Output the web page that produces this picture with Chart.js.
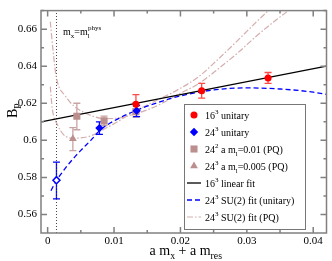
<!DOCTYPE html>
<html>
<head>
<meta charset="utf-8">
<script src="https://cdn.jsdelivr.net/npm/chart.js@4"></script>
<style>
  body { margin: 0; background: #fff; }
  #wrap { width: 332px; height: 261px; }
</style>
</head>
<body>
<div id="wrap"><canvas id="bpChart" width="332" height="261"></canvas></div>
<script>
// axis ticks
const xTicks = [0, 0.01, 0.02, 0.03, 0.04];
const xTickLabels = ['0', '0.01', '0.02', '0.03', '0.04'];
const yTicks = [0.56, 0.58, 0.6, 0.62, 0.64, 0.66];
const yTickLabels = ['0.56', '0.58', '0.6', '0.62', '0.64', '0.66'];

// 16^3 unitary
const u16X = [0.0133, 0.0232, 0.0332];
const u16Y = [0.6195, 0.6268, 0.6336];
const u16Lo = [0.6148, 0.6228, 0.6307];
const u16Hi = [0.6247, 0.6307, 0.6366];

// 24^3 unitary
const u24X = [0.0078, 0.0134];
const u24Y = [0.6066, 0.6159];
const u24Lo = [0.6032, 0.6128];
const u24Hi = [0.6100, 0.6188];

// value at m_x = m_l^phys
const physX = [0.00133];
const physY = [0.5785];
const physLo = [0.5684];
const physHi = [0.5882];

// 24^3 a m_l = 0.01 (PQ)
const pq01X = [0.0044, 0.0085, 0.0133];
const pq01Y = [0.6130, 0.6105, 0.6155];
const pq01Lo = [0.6057, 0.6080, 0.6126];
const pq01Hi = [0.6200, 0.6131, 0.6204];

// 24^3 a m_l = 0.005 (PQ)
const pq005X = [0.0038];
const pq005Y = [0.6009];
const pq005Lo = [0.5945];
const pq005Hi = [0.6069];

// fits
const linFitX = [-0.001, 0.042];
const linFitY = [0.6100, 0.6401];

const su2FitX = [0.0005, 0.0013, 0.002, 0.003, 0.004, 0.005, 0.0065, 0.008, 0.010, 0.0134, 0.0165, 0.0197, 0.025, 0.030, 0.035, 0.040, 0.042];
const su2FitY = [0.5728, 0.5782, 0.5818, 0.5865, 0.5907, 0.5946, 0.6000, 0.6058, 0.6105, 0.6162, 0.6203, 0.6237, 0.6272, 0.6283, 0.6277, 0.6260, 0.6248];

const pqFitAX = [0.0004, 0.0008, 0.0013, 0.0027, 0.0039, 0.0054, 0.0071, 0.0085, 0.0100, 0.0134, 0.0168, 0.0197, 0.0227, 0.0256, 0.0286, 0.0315, 0.0345, 0.0363, 0.0370];
const pqFitAY = [0.6640, 0.6490, 0.6342, 0.6238, 0.6187, 0.6152, 0.6127, 0.6117, 0.6118, 0.6145, 0.6192, 0.6249, 0.6305, 0.6383, 0.6471, 0.6564, 0.6652, 0.6703, 0.6730];

const pqFitBX = [0.0004, 0.0007, 0.0015, 0.0024, 0.0039, 0.0064, 0.0079, 0.0100, 0.0134, 0.0168, 0.0197, 0.0227, 0.0256, 0.0286, 0.0315, 0.0333, 0.0340];
const pqFitBY = [0.6290, 0.6171, 0.6083, 0.6031, 0.6011, 0.6023, 0.6049, 0.6090, 0.6161, 0.6222, 0.6275, 0.6342, 0.6435, 0.6538, 0.6641, 0.6703, 0.6730];

// vertical marker m_x = m_l^phys
const physLineX = [0.00133, 0.00133];
const physLineY = [0.55, 0.67];

const xMin = -0.001, xMax = 0.042, yMin = 0.55, yMax = 0.67;

const FONT = '"Liberation Serif", "Times New Roman", serif';
Chart.defaults.font.family = FONT;
Chart.defaults.color = '#000';

function pts(xs, ys) {
  return xs.map((x, i) => ({ x: x, y: ys[i] }));
}

// text pieces: [text, 0 normal | 1 sub | 2 sup]
function richWidth(ctx, parts, size) {
  let w = 0;
  for (const [t, k] of parts) {
    ctx.font = (k ? size * 0.7 : size) + 'px ' + FONT;
    w += ctx.measureText(t).width;
  }
  return w;
}
function richText(ctx, parts, x, y, size) {
  let cx = x;
  for (const [t, k] of parts) {
    const s = k ? size * 0.7 : size;
    ctx.font = s + 'px ' + FONT;
    const dy = k === 1 ? size * 0.3 : (k === 2 ? -size * 0.42 : 0);
    ctx.fillText(t, cx, y + dy);
    cx += ctx.measureText(t).width;
  }
  return cx;
}

function marker(ctx, style, x, y, r) {
  ctx.beginPath();
  if (style === 'circle') {
    ctx.arc(x, y, r, 0, Math.PI * 2);
  } else if (style === 'rectRot') {
    ctx.moveTo(x, y - r); ctx.lineTo(x + r, y); ctx.lineTo(x, y + r); ctx.lineTo(x - r, y);
  } else if (style === 'rect') {
    const s = r * Math.SQRT1_2;
    ctx.rect(x - s, y - s, 2 * s, 2 * s);
  } else if (style === 'triangle') {
    ctx.moveTo(x, y - r); ctx.lineTo(x + r * 0.87, y + r * 0.5); ctx.lineTo(x - r * 0.87, y + r * 0.5);
  }
  ctx.closePath();
  ctx.fill();
}

const errorSets = [
  { x: pq005X, lo: pq005Lo, hi: pq005Hi, color: '#c9a3a3' },
  { x: pq01X, lo: pq01Lo, hi: pq01Hi, color: '#c9a3a3' },
  { x: u16X, lo: u16Lo, hi: u16Hi, color: '#ff4a4a' },
  { x: u24X, lo: u24Lo, hi: u24Hi, color: '#0000ff' },
  { x: physX, lo: physLo, hi: physHi, color: '#0000ff' }
];

const bpPlugin = {
  id: 'bpPlugin',
  beforeDatasetsDraw(chart) {
    const ctx = chart.ctx, xs = chart.scales.x, ys = chart.scales.y;
    ctx.save();
    ctx.lineWidth = 1.3;
    errorSets.forEach(e => {
      ctx.strokeStyle = e.color;
      e.x.forEach((xv, i) => {
        const px = xs.getPixelForValue(xv);
        const p1 = ys.getPixelForValue(e.lo[i]);
        const p2 = ys.getPixelForValue(e.hi[i]);
        ctx.beginPath();
        ctx.moveTo(px, p1); ctx.lineTo(px, p2);
        ctx.moveTo(px - 3.5, p1); ctx.lineTo(px + 3.5, p1);
        ctx.moveTo(px - 3.5, p2); ctx.lineTo(px + 3.5, p2);
        ctx.stroke();
      });
    });
    ctx.restore();
  },
  afterDraw(chart) {
    const ctx = chart.ctx, a = chart.chartArea, xs = chart.scales.x, ys = chart.scales.y;
    ctx.save();
    // frame and inward ticks
    ctx.strokeStyle = '#808080';
    ctx.lineWidth = 1.5;
    ctx.strokeRect(a.left, a.top, a.right - a.left, a.bottom - a.top);
    ctx.beginPath();
    for (let k = 0; k <= 8; k++) {
      const v = k * 0.005;
      const px = xs.getPixelForValue(v);
      const len = k % 2 === 0 ? 6 : 3;
      ctx.moveTo(px, a.bottom); ctx.lineTo(px, a.bottom - len);
      ctx.moveTo(px, a.top); ctx.lineTo(px, a.top + len);
    }
    for (let k = 0; k <= 11; k++) {
      const v = 0.56 + k * 0.01;
      if (v > yMax) break;
      const py = ys.getPixelForValue(v);
      const len = k % 2 === 0 ? 6 : 3;
      ctx.moveTo(a.left, py); ctx.lineTo(a.left + len, py);
      ctx.moveTo(a.right, py); ctx.lineTo(a.right - len, py);
    }
    ctx.stroke();

    ctx.fillStyle = '#000';
    ctx.textBaseline = 'alphabetic';
    ctx.textAlign = 'left';

    // x title
    const xt = [['a m', 0], ['x', 1], [' + a m', 0], ['res', 1]];
    const xw = richWidth(ctx, xt, 14);
    richText(ctx, xt, (a.left + a.right) / 2 - xw / 2 + 2, 255, 14);

    // y title
    ctx.save();
    ctx.translate(17, 118);
    ctx.rotate(-Math.PI / 2);
    richText(ctx, [['B', 0], ['P', 1]], 0, 0, 14);
    ctx.restore();

    // annotation
    richText(ctx, [['m', 0], ['x', 1], ['=m', 0], ['l', 1]], 63, 35, 10);
    ctx.font = '7px ' + FONT;
    ctx.fillText('phys', 88, 30);

    // legend
    const lx = 184, ly = 104, lw = 121, lh = 125;
    ctx.fillStyle = '#fff';
    ctx.fillRect(lx, ly, lw, lh);
    ctx.strokeStyle = '#777';
    ctx.lineWidth = 1;
    ctx.strokeRect(lx + 0.5, ly + 0.5, lw, lh);
    let row = 0;
    chart.data.datasets.forEach(ds => {
      if (!ds.legend) return;
      const cy = 115 + row * 17;
      ctx.save();
      if (ds.showLine) {
        ctx.strokeStyle = ds.borderColor;
        ctx.lineWidth = ds.borderWidth;
        ctx.setLineDash(ds.borderDash || []);
        ctx.beginPath();
        ctx.moveTo(187, cy); ctx.lineTo(201, cy);
        ctx.stroke();
      } else {
        ctx.fillStyle = ds.backgroundColor;
        marker(ctx, ds.pointStyle, 194, cy, ds.pointRadius);
      }
      ctx.restore();
      ctx.fillStyle = '#000';
      richText(ctx, ds.legend, 205, cy + 3.5, 10);
      row++;
    });
    ctx.restore();
  }
};

new Chart(document.getElementById('bpChart').getContext('2d'), {
  type: 'scatter',
  data: {
    datasets: [
      {
        data: pts(u16X, u16Y), pointStyle: 'circle', pointRadius: 3.5,
        backgroundColor: '#ff0000', borderColor: '#ff0000', borderWidth: 0, showLine: false, order: 1,
        legend: [['16', 0], ['3', 2], [' unitary', 0]]
      },
      {
        data: pts(u24X, u24Y), pointStyle: 'rectRot', pointRadius: 4.2,
        backgroundColor: '#0000ff', borderColor: '#0000ff', borderWidth: 0, showLine: false, order: 1,
        legend: [['24', 0], ['3', 2], [' unitary', 0]]
      },
      {
        data: pts(physX, physY), pointStyle: 'rectRot', pointRadius: 3.5,
        backgroundColor: '#ffffff', borderColor: '#0000ff', borderWidth: 1.5, showLine: false, order: 1
      },
      {
        data: pts(pq01X, pq01Y), pointStyle: 'rect', pointRadius: 5,
        backgroundColor: '#bc8f8f', borderColor: '#bc8f8f', borderWidth: 0, showLine: false, order: 2,
        legend: [['24', 0], ['2', 2], [' a m', 0], ['l', 1], ['=0.01 (PQ)', 0]]
      },
      {
        data: pts(pq005X, pq005Y), pointStyle: 'triangle', pointRadius: 4.5,
        backgroundColor: '#bc8f8f', borderColor: '#bc8f8f', borderWidth: 0, showLine: false, order: 2,
        legend: [['24', 0], ['3', 2], [' a m', 0], ['l', 1], ['=0.005 (PQ)', 0]]
      },
      {
        data: pts(linFitX, linFitY), showLine: true, pointRadius: 0,
        borderColor: '#000000', backgroundColor: '#000000', borderWidth: 1.3, order: 3,
        legend: [['16', 0], ['3', 2], [' linear fit', 0]]
      },
      {
        data: pts(su2FitX, su2FitY), showLine: true, pointRadius: 0, cubicInterpolationMode: 'monotone',
        borderColor: '#0000ff', backgroundColor: '#0000ff', borderWidth: 1.3, borderDash: [5, 3], order: 3,
        legend: [['24', 0], ['3', 2], [' SU(2) fit (unitary)', 0]]
      },
      {
        data: pts(pqFitAX, pqFitAY), showLine: true, pointRadius: 0, cubicInterpolationMode: 'monotone',
        borderColor: '#d4adad', backgroundColor: '#d4adad', borderWidth: 1.2, borderDash: [6, 2, 1.5, 2], order: 4,
        legend: [['24', 0], ['3', 2], [' SU(2) fit (PQ)', 0]]
      },
      {
        data: pts(pqFitBX, pqFitBY), showLine: true, pointRadius: 0, cubicInterpolationMode: 'monotone',
        borderColor: '#d4adad', backgroundColor: '#d4adad', borderWidth: 1.2, borderDash: [6, 2, 1.5, 2], order: 4
      },
      {
        data: pts(physLineX, physLineY), showLine: true, pointRadius: 0,
        borderColor: '#444444', borderWidth: 1, borderDash: [1, 2], order: 5
      }
    ]
  },
  options: {
    responsive: false,
    animation: false,
    events: [],
    layout: { padding: { top: 1, right: 1, left: 0, bottom: 0 } },
    plugins: { legend: { display: false }, tooltip: { enabled: false } },
    scales: {
      x: {
        type: 'linear', min: xMin, max: xMax,
        grid: { display: false, drawTicks: false }, border: { display: false },
        afterBuildTicks(s) { s.ticks = xTicks.map(v => ({ value: v })); },
        afterFit(s) { s.height = 28; },
        ticks: {
          autoSkip: false, maxRotation: 0, padding: 2, color: '#000', font: { size: 11 },
          callback: (v, i) => xTickLabels[i]
        }
      },
      y: {
        type: 'linear', min: yMin, max: yMax,
        grid: { display: false, drawTicks: false }, border: { display: false },
        afterBuildTicks(s) { s.ticks = yTicks.map(v => ({ value: v })); },
        afterFit(s) { s.width = 41; },
        ticks: {
          autoSkip: false, padding: 4, color: '#000', font: { size: 11 },
          callback: (v, i) => yTickLabels[i]
        }
      }
    }
  },
  plugins: [bpPlugin]
});
</script>
</body>
</html>
